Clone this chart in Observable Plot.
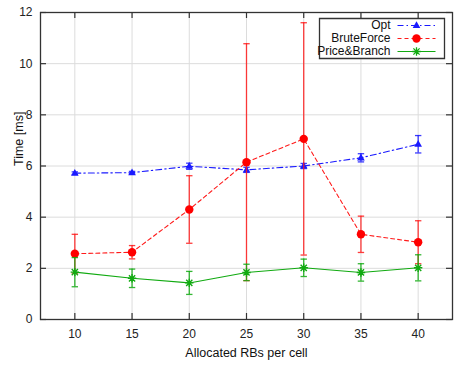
<!DOCTYPE html>
<html><head><meta charset="utf-8">
<script src="https://cdn.jsdelivr.net/npm/d3@7"></script>
<script src="https://cdn.jsdelivr.net/npm/@observablehq/plot@0.6"></script>
<style>body{margin:0;background:#fff}</style>
</head><body><div id="chart"></div>
<script>
// ---- data ----
const rbs = [10, 15, 20, 25, 30, 35, 40];
const optTime = [5.72, 5.74, 5.99, 5.85, 6.00, 6.32, 6.85];
const optErr  = [0.05, 0.05, 0.12, 0.10, 0.10, 0.16, 0.34];
const bfTime  = [2.57, 2.63, 4.30, 6.15, 7.06, 3.33, 3.02];
const bfErr   = [0.76, 0.26, 1.32, 4.63, 4.54, 0.71, 0.84];
const pbTime  = [1.85, 1.61, 1.43, 1.84, 2.02, 1.84, 2.02];
const pbErr   = [0.57, 0.36, 0.45, 0.32, 0.34, 0.34, 0.51];
const seriesNames = ["Opt", "BruteForce", "Price&Branch"];
const xTicks = [10, 15, 20, 25, 30, 35, 40];
const yTicks = [0, 2, 4, 6, 8, 10, 12];

const colors = {Opt: "#1a1aff", BruteForce: "#ff1a1a", "Price&Branch": "#11aa11"};
const dashes = {Opt: "6,3,1.5,3", BruteForce: "4,3", "Price&Branch": null};

function rows(name, ys, es) {
  return rbs.map((x, i) => ({series: name, x, y: ys[i], lo: ys[i] - es[i], hi: ys[i] + es[i]}));
}
const data = {
  Opt: rows("Opt", optTime, optErr),
  BruteForce: rows("BruteForce", bfTime, bfErr),
  "Price&Branch": rows("Price&Branch", pbTime, pbErr)
};

// ---- symbols ----
const capSym = {draw(c) { c.moveTo(-3.2, 0); c.lineTo(3.2, 0); }};
const triSym = {draw(c) { c.moveTo(0, -4.2); c.lineTo(3.8, 2.6); c.lineTo(-3.8, 2.6); c.closePath(); }};
const starSym = {draw(c) {
  const r = 4.2, d = 3.1;
  c.moveTo(-r, 0); c.lineTo(r, 0); c.moveTo(0, -r); c.lineTo(0, r);
  c.moveTo(-d, -d); c.lineTo(d, d); c.moveTo(-d, d); c.lineTo(d, -d);
}};
const lineSym = {draw(c) { c.moveTo(-19, 0); c.lineTo(19, 0); }};
const boxSym = {draw(c) { c.rect(-62.5, -20, 125, 40); }};

const W = 464, H = 370, mL = 40, mR = 12, mT = 12, mB = 51;
const pw = W - mL - mR, ph = H - mT - mB;

function seriesMarks(name) {
  const d = data[name], col = colors[name];
  const marks = [
    Plot.line(d, {x: "x", y: "y", stroke: col, strokeWidth: 1.1, strokeDasharray: dashes[name]}),
    Plot.ruleX(d, {x: "x", y1: "lo", y2: "hi", stroke: col, strokeWidth: 1.3, strokeOpacity: 0.85}),
    Plot.dot(d, {x: "x", y: "lo", symbol: capSym, stroke: col, strokeWidth: 1.3, strokeOpacity: 0.85}),
    Plot.dot(d, {x: "x", y: "hi", symbol: capSym, stroke: col, strokeWidth: 1.3, strokeOpacity: 0.85})
  ];
  if (name === "Opt") marks.push(Plot.dot(d, {x: "x", y: "y", symbol: triSym, fill: col, stroke: "none"}));
  if (name === "BruteForce") marks.push(Plot.dot(d, {x: "x", y: "y", r: 4.2, fill: "#ff0000", stroke: "none"}));
  if (name === "Price&Branch") marks.push(Plot.dot(d, {x: "x", y: "y", symbol: starSym, stroke: col, strokeWidth: 1.4}));
  return marks;
}

function legendMarks() {
  const out = [Plot.dot([0], {frameAnchor: "top-right", dx: -70.5, dy: 26, symbol: boxSym, stroke: "#333", strokeWidth: 1.3, fill: "white"})];
  seriesNames.forEach((name, i) => {
    const dy = 13 + i * 13;
    out.push(Plot.text([name], {frameAnchor: "top-right", dx: -62, dy, textAnchor: "end", lineAnchor: "middle", text: d => d, fill: "#111", fontSize: 12}));
    out.push(Plot.dot([0], {frameAnchor: "top-right", dx: -36, dy, symbol: lineSym, stroke: colors[name], strokeWidth: 1.2, strokeDasharray: dashes[name]}));
    if (name === "Opt") out.push(Plot.dot([0], {frameAnchor: "top-right", dx: -36, dy, symbol: triSym, fill: colors[name], stroke: "none"}));
    if (name === "BruteForce") out.push(Plot.dot([0], {frameAnchor: "top-right", dx: -36, dy, r: 4.2, fill: "#ff0000", stroke: "none"}));
    if (name === "Price&Branch") out.push(Plot.dot([0], {frameAnchor: "top-right", dx: -36, dy, symbol: starSym, stroke: colors[name], strokeWidth: 1.3}));
  });
  return out;
}

const chart = Plot.plot({
  width: W, height: H,
  marginLeft: mL, marginRight: mR, marginTop: mT, marginBottom: mB,
  style: {fontFamily: "'Liberation Sans', Arial, sans-serif", fontSize: "12px", background: "white", color: "#222"},
  x: {domain: [7, 43]},
  y: {domain: [0, 12]},
  marks: [
    Plot.gridX(xTicks, {stroke: "#dcdcdc", strokeOpacity: 1, strokeWidth: 1}),
    Plot.gridY(yTicks.slice(1, -1), {stroke: "#dcdcdc", strokeOpacity: 1, strokeWidth: 1}),
    ...seriesMarks("Opt"),
    ...seriesMarks("BruteForce"),
    ...seriesMarks("Price&Branch"),
    Plot.frame({stroke: "#333", strokeWidth: 1.3}),
    Plot.tickY(yTicks, {y: d => d, insetRight: pw - 6, stroke: "#333", strokeWidth: 1.2}),
    Plot.tickY(yTicks, {y: d => d, insetLeft: pw - 6, stroke: "#333", strokeWidth: 1.2}),
    Plot.tickX(xTicks, {x: d => d, insetBottom: ph - 6, stroke: "#333", strokeWidth: 1.2}),
    Plot.tickX(xTicks, {x: d => d, insetTop: ph - 6, stroke: "#333", strokeWidth: 1.2}),
    Plot.axisY({ticks: yTicks, tickSize: 0, tickPadding: 8, label: null, fontSize: 12}),
    Plot.axisX({ticks: xTicks, tickSize: 0, tickPadding: 10, label: null, fontSize: 12}),
    Plot.text(["Time [ms]"], {frameAnchor: "left", dx: -22, rotate: -90, text: d => d, fontSize: 12.5, fill: "#111"}),
    Plot.text(["Allocated RBs per cell"], {frameAnchor: "bottom", dy: 33, lineAnchor: "middle", text: d => d, fontSize: 12.5, fill: "#111"}),
    ...legendMarks()
  ]
});
document.getElementById("chart").appendChild(chart);
</script>
</body></html>
